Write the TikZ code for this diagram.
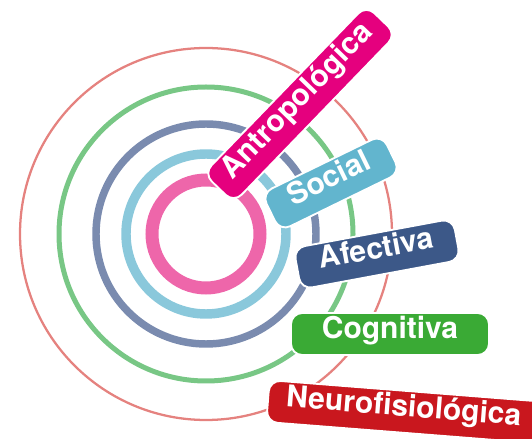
\documentclass[tikz,border=0pt]{standalone}
\usepackage{fontspec}
\setmainfont{TeX Gyre Heros}
\definecolor{ringsalmon}{HTML}{E5827F}
\definecolor{ringgreen}{HTML}{78C785}
\definecolor{ringslate}{HTML}{7A8BAF}
\definecolor{ringblue}{HTML}{8AC8DB}
\definecolor{ringpink}{HTML}{EE66AA}
\definecolor{cAntro}{HTML}{E5007E}
\definecolor{cSocial}{HTML}{62B5CE}
\definecolor{cAfect}{HTML}{3C5888}
\definecolor{cCogn}{HTML}{3AAA35}
\definecolor{cNeuro}{HTML}{C9171E}
\tikzset{
  ring/.style={draw=#1},
  label box/.style={fill=#1, draw=white, line width=1.4pt, rounded corners=8.5pt,
    text=white, minimum height=31.5pt, inner xsep=0pt, inner ysep=0pt,
    font=\bfseries\fontsize{22.5}{26}\selectfont, text height=0.75em, text depth=0.083em}
}
\begin{document}
\begin{tikzpicture}[x=0.75pt,y=0.75pt]
\useasboundingbox (0,0) rectangle (532,439);
\clip (0,0) rectangle (532,439);
\coordinate (c) at (206,205);
\draw[ring=ringsalmon, line width=1.7pt] (c) circle[radius=186];
\draw[ring=ringgreen, line width=3.75pt] (c) circle[radius=147];
\draw[ring=ringslate, line width=5.6pt] (c) circle[radius=110];
\draw[ring=ringblue, line width=7.1pt] (c) circle[radius=80];
\draw[ring=ringpink, line width=9.75pt] (c) circle[radius=54];

\node[label box=cAntro, minimum width=175.5pt, rotate=46] (antro) at (300,335) {Antropológica};
\node[label box=cSocial, minimum width=100.5pt, rotate=26] (social) at (331,256) {Social};
\node[label box=cAfect, minimum width=121.5pt, rotate=10.5] (afect) at (377,185) {Afectiva};
\node[label box=cCogn, minimum width=148.5pt] (cogn) at (390,105) {Cognitiva};
\node[label box=cNeuro, rotate=-4.5, anchor=west, inner xsep=13.5pt, text width=198pt, align=left] (neuro) at (267,38) {Neurofisiológica};
\end{tikzpicture}
\end{document}
